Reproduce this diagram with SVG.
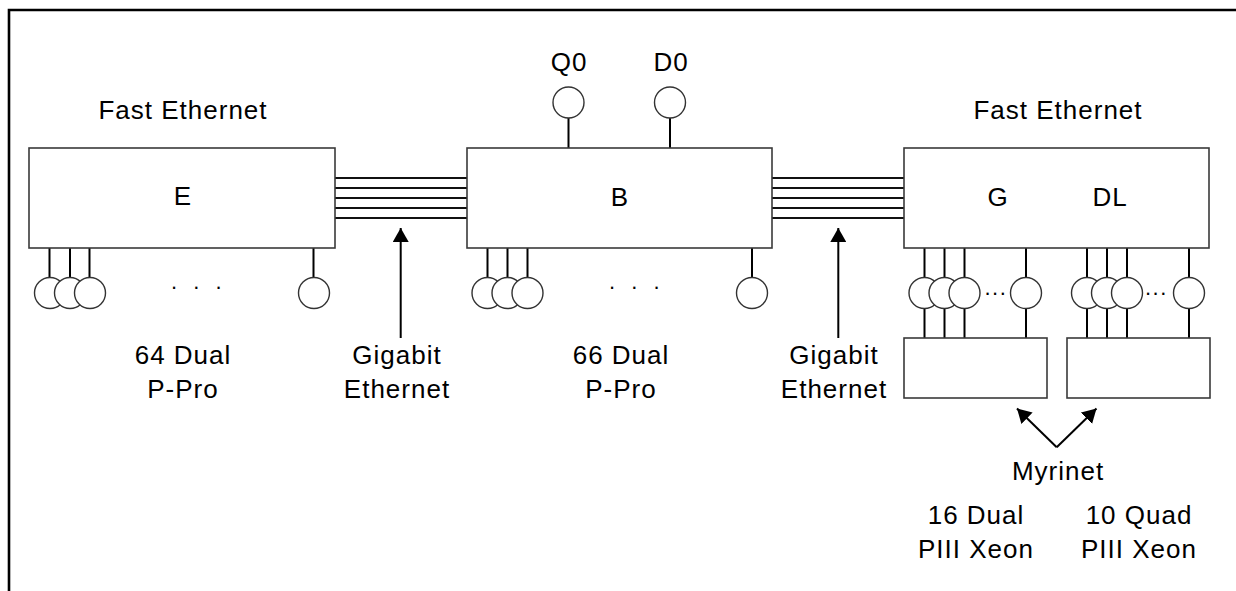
<svg xmlns="http://www.w3.org/2000/svg" width="1236" height="591" viewBox="0 0 1236 591">
<style>
  .box { fill: #fff; stroke: #3a3a3a; stroke-width: 1.6; }
  .nd { fill: #fff; stroke: #333; stroke-width: 1.4; }
  .ln { stroke: #000; stroke-width: 2; fill: none; }
  .bus { stroke: #111; stroke-width: 2.2; fill: none; }
  .t { font-family: "Liberation Sans", Arial, sans-serif; font-size: 26px; fill: #000; text-anchor: middle; letter-spacing: 1px; }
  .d { font-family: "Liberation Sans", Arial, sans-serif; font-size: 22px; fill: #000; letter-spacing: 5px; }
  .d2 { font-family: "Liberation Sans", Arial, sans-serif; font-size: 22px; fill: #000; letter-spacing: 1.5px; }
</style>
<defs>
  <marker id="ah2" markerWidth="14" markerHeight="16" refX="14" refY="8" orient="auto" markerUnits="userSpaceOnUse" viewBox="0 0 14 16">
    <path d="M0,0 L14,8 L0,16 Z" fill="#000"/>
  </marker>
</defs>

<g id="frame">
  <path d="M9,591 L9,10 L1236,10" fill="none" stroke="#000" stroke-width="2.6"/>
</g>

<g id="connectors">
  <path class="bus" d="M335,178 H467 M335,188 H467 M335,198 H467 M335,208 H467 M335,218 H467"/>
  <path class="bus" d="M772,178 H904 M772,188 H904 M772,198 H904 M772,208 H904 M772,218 H904"/>
  <path class="ln" d="M49.5,248 V280 M70,248 V280 M89.5,248 V280 M313.5,248 V280"/>
  <path class="ln" d="M487.5,248 V280 M507.5,248 V280 M527.5,248 V280 M752,248 V280"/>
  <path class="ln" d="M568.5,118 V148 M670,118 V148"/>
  <path class="ln" d="M924.5,248 V338 M944.5,248 V338 M964.5,248 V338 M1026,248 V338"/>
  <path class="ln" d="M1087,248 V338 M1107,248 V338 M1127,248 V338 M1189,248 V338"/>
  <line class="ln" x1="400.7" y1="338" x2="400.7" y2="228" marker-end="url(#ah2)"/>
  <line class="ln" x1="838.3" y1="338" x2="838.3" y2="228" marker-end="url(#ah2)"/>
  <line class="ln" x1="1056.7" y1="447.3" x2="1017" y2="408.5" marker-end="url(#ah2)"/>
  <line class="ln" x1="1056.7" y1="447.3" x2="1096.5" y2="408.5" marker-end="url(#ah2)"/>
</g>

<g id="node-E">
  <rect class="box" x="29" y="148" width="306" height="100"/>
  <text class="t" x="183" y="205">E</text>
</g>
<g id="node-B">
  <rect class="box" x="467" y="148" width="305" height="100"/>
  <text class="t" x="620" y="205.5">B</text>
</g>
<g id="node-GDL">
  <rect class="box" x="904" y="148" width="305" height="100"/>
  <text class="t" x="998" y="206">G</text>
  <text class="t" x="1110" y="206">DL</text>
</g>
<g id="node-G-myrinet">
  <rect class="box" x="904" y="338" width="143" height="60"/>
</g>
<g id="node-DL-myrinet">
  <rect class="box" x="1067" y="338" width="143" height="60"/>
</g>

<g id="node-Q0">
  <circle class="nd" cx="568.5" cy="102.5" r="15.5"/>
  <text class="t" x="569" y="71">Q0</text>
</g>
<g id="node-D0">
  <circle class="nd" cx="670" cy="102.5" r="15.5"/>
  <text class="t" x="671" y="71">D0</text>
</g>

<g id="nodes-E">
  <circle class="nd" cx="50" cy="293" r="15.5"/>
  <circle class="nd" cx="70" cy="293" r="15.5"/>
  <circle class="nd" cx="90" cy="293" r="15.5"/>
  <circle class="nd" cx="314" cy="293" r="15.5"/>
  <text class="d" x="171" y="288.5">. . .</text>
</g>
<g id="nodes-B">
  <circle class="nd" cx="487.5" cy="293" r="15.5"/>
  <circle class="nd" cx="507.5" cy="293" r="15.5"/>
  <circle class="nd" cx="527.5" cy="293" r="15.5"/>
  <circle class="nd" cx="752" cy="293" r="15.5"/>
  <text class="d" x="609" y="288.5">. . .</text>
</g>
<g id="nodes-G">
  <circle class="nd" cx="924.5" cy="293" r="15.5"/>
  <circle class="nd" cx="944.5" cy="293" r="15.5"/>
  <circle class="nd" cx="964.5" cy="293" r="15.5"/>
  <circle class="nd" cx="1026" cy="293" r="15.5"/>
  <text class="d2" x="984.5" y="295">...</text>
</g>
<g id="nodes-DL">
  <circle class="nd" cx="1087" cy="293" r="15.5"/>
  <circle class="nd" cx="1107" cy="293" r="15.5"/>
  <circle class="nd" cx="1127" cy="293" r="15.5"/>
  <circle class="nd" cx="1189" cy="293" r="15.5"/>
  <text class="d2" x="1145" y="295">...</text>
</g>

<g id="labels">
  <text class="t" x="183" y="119">Fast Ethernet</text>
  <text class="t" x="1058" y="119">Fast Ethernet</text>
  <text class="t" x="183" y="364">64 Dual</text>
  <text class="t" x="183" y="398">P-Pro</text>
  <text class="t" x="397" y="364">Gigabit</text>
  <text class="t" x="397" y="398">Ethernet</text>
  <text class="t" x="621" y="364">66 Dual</text>
  <text class="t" x="621" y="398">P-Pro</text>
  <text class="t" x="834" y="364">Gigabit</text>
  <text class="t" x="834" y="398">Ethernet</text>
  <text class="t" x="1058" y="480">Myrinet</text>
  <text class="t" x="976" y="524">16 Dual</text>
  <text class="t" x="976" y="558">PIII Xeon</text>
  <text class="t" x="1139" y="524">10 Quad</text>
  <text class="t" x="1139" y="558">PIII Xeon</text>
</g>
</svg>
